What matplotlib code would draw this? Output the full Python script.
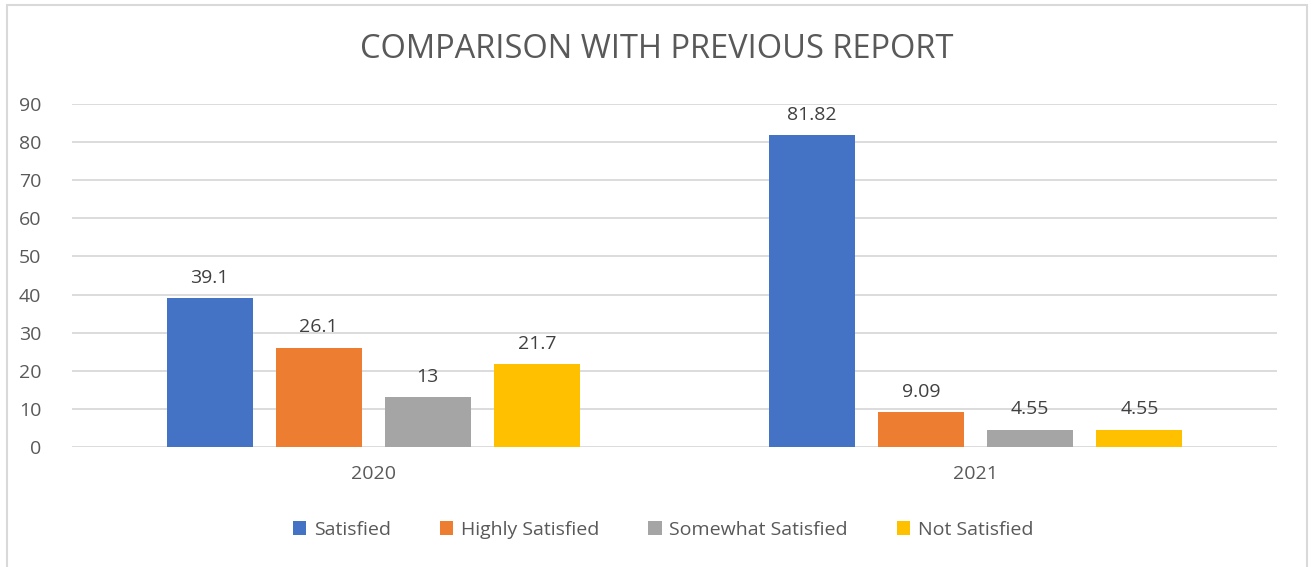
import matplotlib
matplotlib.use("Agg")
import matplotlib.pyplot as plt
import numpy as np

years = ["2020", "2021"]
series = ["Satisfied", "Highly Satisfied", "Somewhat Satisfied", "Not Satisfied"]
satisfied = [39.1, 81.82]
highly_satisfied = [26.1, 9.09]
somewhat_satisfied = [13, 4.55]
not_satisfied = [21.7, 4.55]
labels = [["39.1", "81.82"], ["26.1", "9.09"], ["13", "4.55"], ["21.7", "4.55"]]

COLORS = ["#4472C4", "#ED7D31", "#A5A5A5", "#FFC000"]
TEXT = "#595959"
plt.rcParams["font.family"] = ["Open Sans", "DejaVu Sans"]

fig = plt.figure(figsize=(13.13, 5.67), dpi=100, facecolor="white")
ax = fig.add_axes([0.0548, 0.2116, 0.9178, 0.605])

x = np.arange(len(years))
width = 0.143
step = 0.181
values = [satisfied, highly_satisfied, somewhat_satisfied, not_satisfied]
for i, (name, vals) in enumerate(zip(series, values)):
    pos = x + (i - 1.5) * step
    bars = ax.bar(pos, vals, width, color=COLORS[i], label=name, zorder=3)
    for b, lab in zip(bars, labels[i]):
        ax.text(b.get_x() + b.get_width() / 2, b.get_height() + 3.0, lab,
                ha="center", va="bottom", fontsize=14, color="#404040")

ax.set_xlim(-0.5, 1.5)
ax.set_ylim(0, 90)
ax.set_yticks(range(0, 91, 10))
ax.set_xticks(x)
ax.set_xticklabels(years)
ax.yaxis.grid(True, color="#D9D9D9", linewidth=1.3, zorder=0)
for s in ax.spines.values():
    s.set_visible(False)
ax.tick_params(axis="both", length=0, labelsize=14, colors=TEXT)
ax.tick_params(axis="y", pad=22)
ax.tick_params(axis="x", pad=13)

fig.text(0.5, 0.912, "COMPARISON WITH PREVIOUS REPORT", ha="center", va="center",
         fontsize=23.5, color=TEXT)

leg = fig.legend(loc="center", bbox_to_anchor=(0.505, 0.066), ncol=4, frameon=False,
                 fontsize=14, handlelength=0.7, handleheight=0.7, handletextpad=0.4,
                 columnspacing=2.5)
for t in leg.get_texts():
    t.set_color(TEXT)

border = plt.Rectangle((7 / 1313, -0.1), 1300 / 1313, 1 - 5 / 567 + 0.1,
                       transform=fig.transFigure, fill=False,
                       edgecolor="#D9D9D9", linewidth=1.5)
fig.patches.append(border)

fig.savefig("out.png", dpi=100, facecolor="white")
